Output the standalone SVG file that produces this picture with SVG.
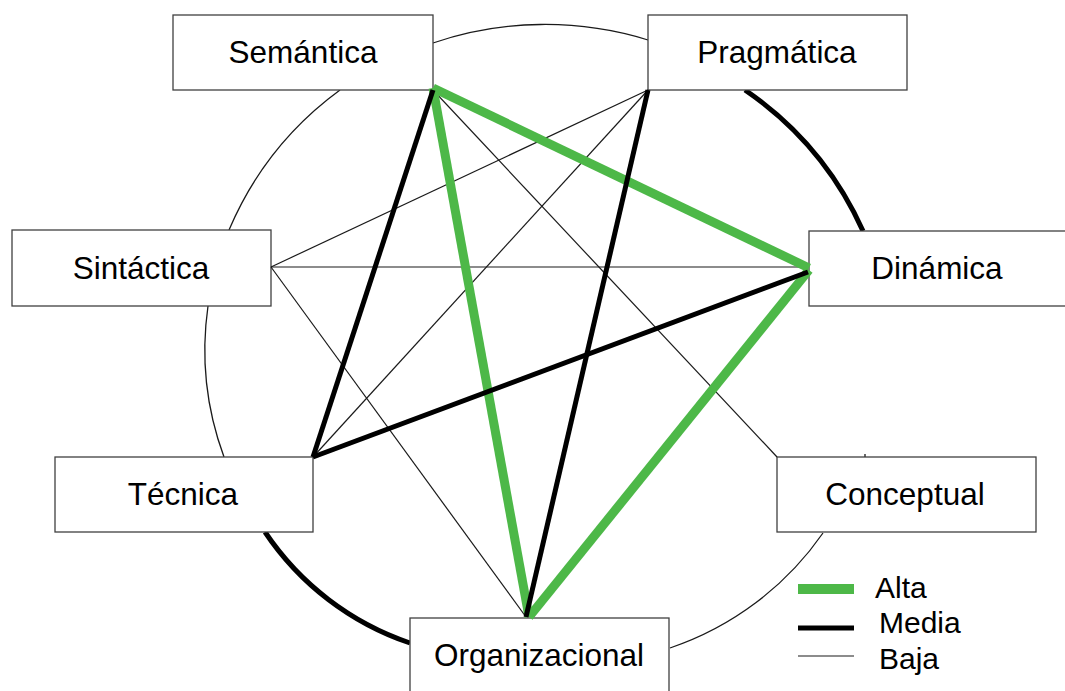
<svg xmlns="http://www.w3.org/2000/svg" width="1065" height="691" viewBox="0 0 1065 691">
  <style>
    .box { fill: #ffffff; stroke: #404040; stroke-width: 1.3; }
    .lbl { font-family: "Liberation Sans", Arial, sans-serif; font-size: 31.5px; fill: #000; text-anchor: middle; }
    .leg { font-family: "Liberation Sans", Arial, sans-serif; font-size: 30px; fill: #000; }
    .alta { stroke: #4db848; stroke-width: 9; fill: none; }
    .media { stroke: #000; stroke-width: 5; fill: none; }
    .baja { stroke: #1a1a1a; stroke-width: 1.2; fill: none; }
    .arc { stroke: #1a1a1a; stroke-width: 1.3; fill: none; }
    .arcm { stroke: #000; stroke-width: 5; fill: none; }
  </style>
  <rect width="1065" height="691" fill="#ffffff"/>

  <g id="arcs">
    <path class="arc" d="M433,43 A348,348 0 0 1 648,40"/>
    <path class="arcm" d="M745,90 A340,340 0 0 1 863,231"/>
    <path class="arc" d="M865,454 L865,457"/>
    <path class="arc" d="M823,533 A305,305 0 0 1 670,648"/>
    <path class="arcm" d="M410,643 A284,284 0 0 1 265,532"/>
    <path class="arc" d="M224,457 A310,310 0 0 1 208,306"/>
    <path class="arc" d="M229,230 A336,336 0 0 1 340,90"/>
  </g>

  <g id="node-semantica">
    <rect class="box" x="173" y="15" width="260" height="75"/>
    <text class="lbl" x="303" y="63">Semántica</text>
  </g>
  <g id="node-pragmatica">
    <rect class="box" x="648" y="15" width="259" height="75"/>
    <text class="lbl" x="777" y="63">Pragmática</text>
  </g>
  <g id="node-sintactica">
    <rect class="box" x="12" y="230" width="259" height="76"/>
    <text class="lbl" x="141" y="279">Sintáctica</text>
  </g>
  <g id="node-dinamica">
    <rect class="box" x="809" y="231" width="259" height="75"/>
    <text class="lbl" x="937" y="279">Dinámica</text>
  </g>
  <g id="node-tecnica">
    <rect class="box" x="55" y="457" width="258" height="75"/>
    <text class="lbl" x="183" y="505">Técnica</text>
  </g>
  <g id="node-conceptual">
    <rect class="box" x="777" y="457" width="259" height="75"/>
    <text class="lbl" x="905" y="505">Conceptual</text>
  </g>
  <g id="node-organizacional">
    <rect class="box" x="410" y="618" width="259" height="75"/>
    <text class="lbl" x="539" y="666">Organizacional</text>
  </g>

  <g id="connectors">
    <line class="baja" x1="433" y1="90" x2="777" y2="457"/>
    <line class="baja" x1="648" y1="90" x2="271" y2="267"/>
    <line class="baja" x1="648" y1="90" x2="313" y2="457"/>
    <line class="baja" x1="271" y1="267" x2="809" y2="267"/>
    <line class="baja" x1="271" y1="267" x2="526" y2="617"/>
    <line class="alta" x1="433" y1="88" x2="809" y2="268"/>
    <line class="alta" x1="433" y1="88" x2="529" y2="617"/>
    <line class="alta" x1="809" y1="270" x2="529" y2="617"/>
    <line class="media" x1="433" y1="90" x2="313" y2="457"/>
    <line class="media" x1="648" y1="90" x2="526" y2="617"/>
    <line class="media" x1="313" y1="457" x2="808" y2="272"/>
  </g>

  <g id="legend">
    <line stroke="#4db848" stroke-width="10" x1="798" y1="589" x2="854" y2="589"/>
    <text class="leg" x="875" y="598">Alta</text>
    <line stroke="#000" stroke-width="5" x1="798" y1="628" x2="854" y2="628"/>
    <text class="leg" x="879" y="633">Media</text>
    <line stroke="#1a1a1a" stroke-width="1.2" x1="798" y1="656" x2="854" y2="656"/>
    <text class="leg" x="879" y="669">Baja</text>
  </g>
</svg>
